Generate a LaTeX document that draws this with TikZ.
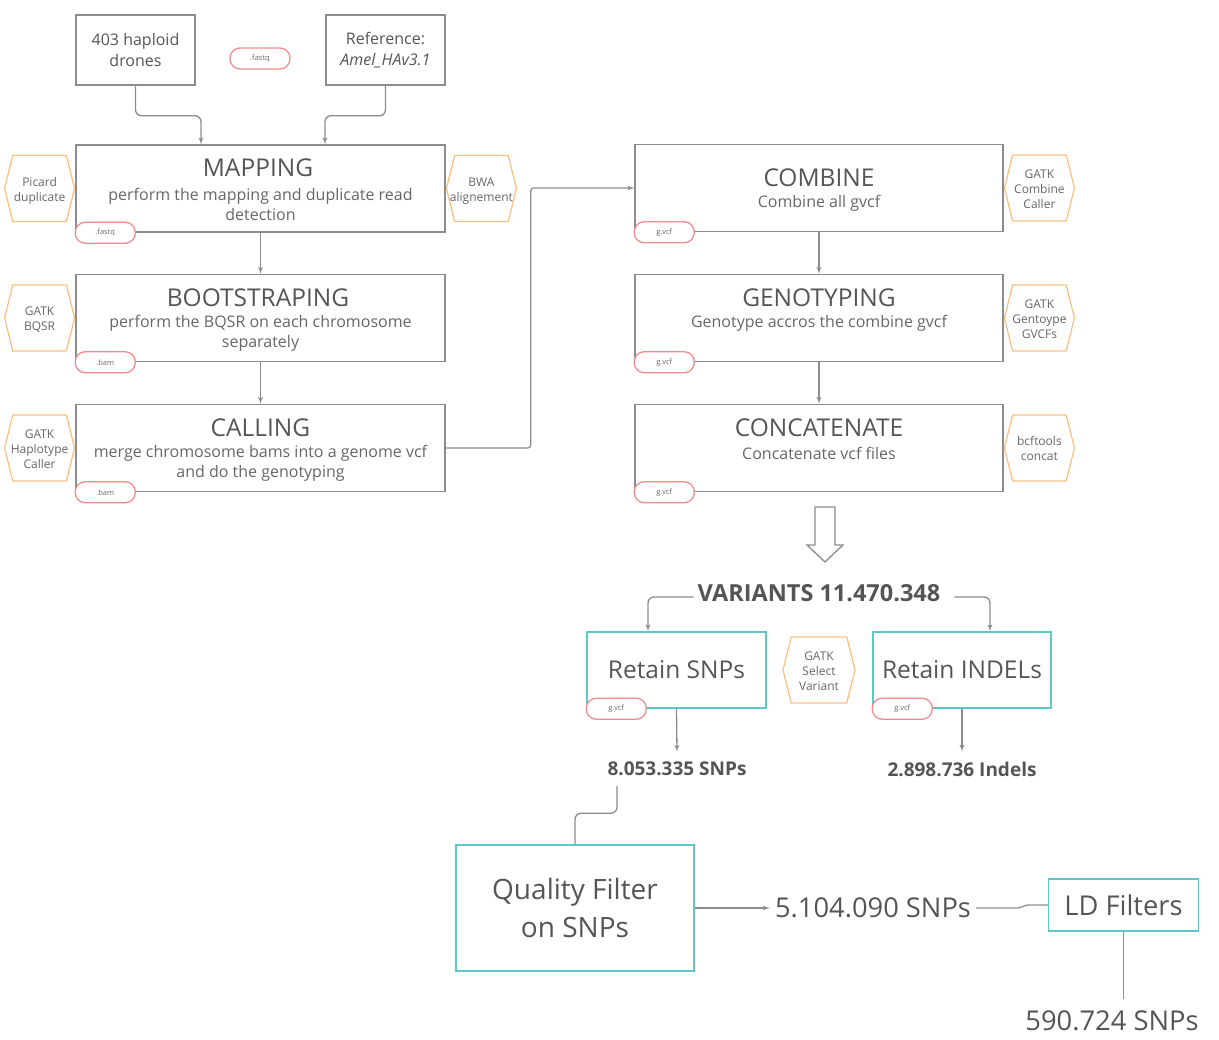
\documentclass[tikz,border=0pt]{standalone}
\usepackage{fontspec}
\setmainfont{Open Sans}
\usetikzlibrary{arrows}
\usetikzlibrary{positioning}
\usetikzlibrary{shapes.symbols}
\definecolor{boxgray}{HTML}{8C8C8C}
\definecolor{titlegray}{HTML}{555555}
\definecolor{textgray}{HTML}{666666}
\definecolor{filtteal}{HTML}{5EC8C6}
\definecolor{toolorange}{HTML}{F9C088}
\definecolor{fmtred}{HTML}{F28C8C}
\newcommand{\toolname}[1]{\raisebox{-2.5pt}[\height][\depth]{\makebox[40pt]{\begin{tabular}{@{}c@{}}#1\end{tabular}}}}
\tikzset{stage/.style = {draw=boxgray, line width=1.5pt, minimum width=369pt,
                         minimum height=87pt, inner sep=0pt},
         srcbox/.style = {draw=boxgray, line width=1.5pt, minimum width=119pt,
                          minimum height=70pt, align=center, text=titlegray,
                          font=\fontsize{16}{21}\selectfont},
         title/.style = {text=titlegray, font=\fontsize{24.5}{28}\selectfont},
         subtitle/.style = {text=textgray, align=center,
                            font=\fontsize{16}{20}\selectfont},
         tool/.style = {signal, signal to=west and east, signal pointer angle=152,
                        draw=toolorange, line width=1.3pt, minimum width=70pt,
                        minimum height=66pt, inner sep=0pt,
                        text=textgray, font=\fontsize{12}{15}\selectfont},
         fmt/.style = {draw=fmtred, fill=white, line width=1.3pt,
                       rounded corners=10pt, minimum width=60pt,
                       minimum height=21pt, inner sep=0pt, text=textgray,
                       font=\fontsize{7.5}{8}\selectfont},
         filt/.style = {draw=filtteal, line width=1.5pt, inner sep=0pt,
                        align=center, text=titlegray},
         count/.style = {text=titlegray, inner xsep=5pt, inner ysep=10pt},
         conn/.style = {draw=boxgray, line width=1.3pt, rounded corners=6pt},
         arr/.style = {conn, -latex'}}

\begin{document}
\begin{tikzpicture}[x=1pt, y=-1pt]
  \useasboundingbox (0,0) rectangle (1219,1040);

  % inputs
  \node[srcbox] (drones) at (135.5,50) {403 haploid\\drones};
  \node[srcbox] (refgen) at (385.5,50) {Reference:\\\textit{Amel\_HAv3.1}};
  \node[fmt] (rawfmt) at (260,58.5) {.fastq};

  % left column
  \node[stage] (mapping) at (260.5,188.5) {};
  \node[stage] (bootstrap) at (260.5,318) {};
  \node[stage] (calling) at (260.5,448) {};
  \node[title] (mapT) at (258,168) {MAPPING};
  \node[subtitle] (mapS) at (260.5,204) {perform the mapping and duplicate read\\detection};
  \node[title] (bootT) at (258,298) {BOOTSTRAPING};
  \node[subtitle] (bootS) at (260.5,333) {perform the BQSR on each chromosome\\separately};
  \node[title] (callT) at (260.5,428) {CALLING};
  \node[subtitle] (callS) at (260.5,463) {merge chromosome bams into a genome vcf\\and do the genotyping};
  \node[tool, left=0pt of mapping] (picard) {\toolname{Picard\\duplicate}};
  \node[tool, right=0pt of mapping] (bwa) {\toolname{BWA\\alignement}};
  \node[tool, left=0pt of bootstrap] (bqsr) {\toolname{GATK\\BQSR}};
  \node[tool, left=0pt of calling] (haplo) {\toolname{GATK\\Haplotype\\Caller}};
  \node[fmt] (mapfmt) at ([xshift=30pt]mapping.south west) {.fastq};
  \node[fmt] (bootfmt) at ([xshift=30pt]bootstrap.south west) {.bam};
  \node[fmt] (callfmt) at ([xshift=30pt]calling.south west) {.bam};

  % right column
  \node[stage, minimum width=368pt] (combine) at (819,188) {};
  \node[stage, minimum width=368pt] (genotyping) at (819,318) {};
  \node[stage, minimum width=368pt] (concat) at (819,448) {};
  \node[title] (combT) at (819,178) {COMBINE};
  \node[subtitle] (combS) at (819,203) {Combine all gvcf};
  \node[title] (genoT) at (819,298) {GENOTYPING};
  \node[subtitle] (genoS) at (819,323) {Genotype accros the combine gvcf};
  \node[title] (concT) at (819,428) {CONCATENATE};
  \node[subtitle] (concS) at (819,453) {Concatenate vcf files};
  \node[tool, right=0pt of combine] (combtool) {\toolname{GATK\\Combine\\Caller}};
  \node[tool, right=0pt of genotyping] (genotool) {\toolname{GATK\\Gentoype\\GVCFs}};
  \node[tool, right=0pt of concat] (bcftools) {\toolname{bcftools\\concat}};
  \node[fmt] (combfmt) at ([xshift=30pt]combine.south west) {g.vcf};
  \node[fmt] (genofmt) at ([xshift=30pt]genotyping.south west) {g.vcf};
  \node[fmt] (concfmt) at ([xshift=30pt]concat.south west) {g.vcf};

  \draw[arr] (drones.south) -- ++(0,30) -| ([xshift=-59.5pt]mapping.north);
  \draw[arr] (refgen.south) -- ++(0,30) -| ([xshift=64.5pt]mapping.north);
  \draw[arr] (mapping) -- (bootstrap);
  \draw[arr] (bootstrap) -- (calling);
  \draw[arr, rounded corners=3pt] (calling.east) -- ++(85,0) |- (combine.west);
  \draw[arr] (combine) -- (genotyping);
  \draw[arr] (genotyping) -- (concat);

  % hollow arrow
  \draw[boxgray, line width=1.3pt, fill=white]
    (815,507) -- (835,507) -- (835,545) -- (843,545) -- (825,562)
    -- (807,545) -- (815,545) -- cycle;

  % variant split
  \node[text=titlegray, font=\fontsize{23.5}{27}\selectfont\bfseries, inner xsep=4pt]
    (variants) at (819,593) {VARIANTS 11.470.348};
  \node[filt, minimum width=179pt, minimum height=76pt,
        font=\fontsize{24.5}{28}\selectfont] (snps) at (676.5,670) {Retain SNPs};
  \node[filt, minimum width=178pt, minimum height=76pt,
        font=\fontsize{24.5}{28}\selectfont] (indels) at (962,670) {Retain INDELs};
  \node[tool, minimum width=72pt] (select) at (819,670) {\toolname{GATK\\Select\\Variant}};
  \node[fmt] (snpfmt) at ([xshift=30pt]snps.south west) {g.vcf};
  \node[fmt] (indfmt) at ([xshift=30pt]indels.south west) {g.vcf};
  \node[count, font=\fontsize{19}{22}\selectfont\bfseries] (snpcnt) at (677,769) {8.053.335 SNPs};
  \node[count, font=\fontsize{19}{22}\selectfont\bfseries] (indcnt) at (962,769) {2.898.736 Indels};

  \draw[arr] ([yshift=-4pt]variants.west) -| ([xshift=-28.5pt]snps.north);
  \draw[arr] ([xshift=10pt, yshift=-4pt]variants.east) -| ([xshift=28pt]indels.north);
  \draw[arr] (snps.south) -- (snpcnt.north);
  \draw[arr] (indels.south) -- (indcnt.north);

  % filtering
  \node[filt, minimum width=238pt, minimum height=126pt,
        font=\fontsize{28}{38}\selectfont] (qual) at (575,908) {Quality Filter\\on SNPs};
  \node[count, font=\fontsize{27.3}{32}\selectfont] (fivem) at (873,908) {5.104.090 SNPs};
  \node[filt, minimum width=150pt, minimum height=52pt,
        font=\fontsize{27.3}{32}\selectfont] (ld) at (1123.5,905) {LD Filters};
  \node[count, font=\fontsize{27.3}{32}\selectfont, inner ysep=12pt] (ldout) at (1112,1021) {590.724 SNPs};

  \draw[conn] ([xshift=-60pt]snpcnt.south) -- ++(0,27) -| (qual.north);
  \draw[arr] (qual.east) -- (fivem.west);
  \draw[conn] (fivem.east) -- ++(36,0) to[out=0, in=180] ([xshift=-14pt]ld.west) -- (ld.west);
  \draw[conn] (ld.south) -- (ld.south |- ldout.north);
\end{tikzpicture}
\end{document}
